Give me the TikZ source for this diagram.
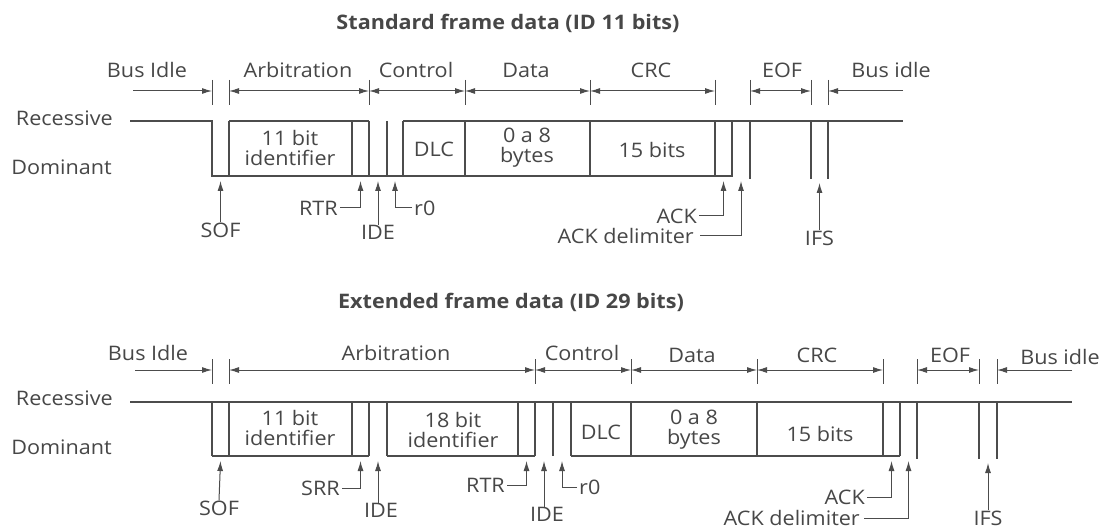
\documentclass[tikz,border=0pt]{standalone}
\usepackage{fontspec}
\setmainfont{Open Sans}[FakeStretch=1.08]
\usetikzlibrary{arrows.meta}
\definecolor{lc}{HTML}{4C4C4C}
\definecolor{tc}{HTML}{474747}
\begin{document}
\begin{tikzpicture}[x=1pt,y=-1pt,
  sig/.style={draw=lc,line width=1.3pt},
  tickl/.style={draw=lc,line width=1pt},
  span/.style={draw=lc,line width=1pt,{Latex[length=10pt,width=6pt]}-{Latex[length=10pt,width=6pt]}},
  ptr/.style={draw=lc,line width=1pt,-{Latex[length=10pt,width=6pt]}},
  lbl/.style={text=tc,inner sep=0pt,font=\fontsize{20}{20}\selectfont},
  boxlbl/.style={lbl,align=center},
  ttl/.style={text=tc,inner sep=0pt,font=\fontsize{20}{20}\selectfont\bfseries}]
\useasboundingbox (0,0) rectangle (1102,529);
\fill[white] (0,0) rectangle (1102,529);

% ================= Standard frame =================
\node[ttl] (title1) at (508,23) {Standard frame data (ID 11 bits)};
\node[lbl] (bi1) at (147,70) {Bus Idle};
\node[lbl] (arb1) at (298,70) {Arbitration};
\node[lbl] (ctl1) at (416,70) {Control};
\node[lbl] (dat1) at (526,70) {Data};
\node[lbl] (crc1) at (651,70) {CRC};
\node[lbl] (eof1) at (782,70) {EOF};
\node[lbl] (bi1r) at (891,70) {Bus idle};
\node[lbl,anchor=east] (rec1) at (113,118) {Recessive};
\node[lbl,anchor=east] (dom1) at (112,167) {Dominant};

% signal
\draw[sig] (130,121) -- (212,121) -- (212,176) -- (732,176) -- (732,121);
\draw[sig] (229,121) -- (369,121);
\draw[sig] (403,121) -- (903,121);
\foreach \x in {229,352,369,387,403,465,590,715}
  \draw[sig] (\x,121) -- (\x,176);
\foreach \x in {750,811,828}
  \draw[sig] (\x,121) -- (\x,179);

% box labels
\node[boxlbl] (id1) at (290,148) {11 bit\\identifier};
\node[boxlbl] (dlc1) at (434,149) {DLC};
\node[boxlbl] (byt1) at (527,148) {0 a 8\\bytes};
\node[boxlbl] (b151) at (652,150) {15 bits};

% ticks and spans
\foreach \x in {212,229,369,465,590,715,750,811,828}
  \draw[tickl] (\x,80) -- (\x,105);
\draw[ptr] (133,91) -- (212,91);
\draw[span] (229,91) -- (369,91);
\draw[span] (369,91) -- (465,91);
\draw[span] (465,91) -- (590,91);
\draw[span] (590,91) -- (715,91);
\draw[span] (750,91) -- (811,91);
\draw[ptr] (903,91) -- (828,91);

% pointers
\coordinate (sofT1) at (220.5,181);
\coordinate (rtrT1) at (360.5,181);
\coordinate (ideT1) at (378,181);
\coordinate (r0T1) at (395,181);
\coordinate (ackT1) at (723.5,181);
\coordinate (ackdT1) at (741,181);
\coordinate (ifsT1) at (819.5,183);
\node[lbl] (sof1) at (220.5,230) {SOF};
\node[lbl,anchor=east] (rtr1) at (338,208) {RTR};
\node[lbl] (ide1) at (378,232) {IDE};
\node[lbl,anchor=west] (r01) at (414,208) {r0};
\node[lbl,anchor=east] (ack1) at (697,216) {ACK};
\node[lbl,anchor=east] (ackd1) at (694,236) {ACK delimiter};
\node[lbl] (ifs1) at (819.5,238) {IFS};
\draw[ptr] (sof1.north) -- (sofT1);
\draw[ptr] ([xshift=2pt]rtr1.east) -| (rtrT1);
\draw[ptr] (ide1.north) -- (ideT1);
\draw[ptr] ([xshift=-2pt]r01.west) -| (r0T1);
\draw[ptr] ([xshift=2pt]ack1.east) -| (ackT1);
\draw[ptr] ([xshift=6pt]ackd1.east) -| (ackdT1);
\draw[ptr] (ifs1.north) -- (ifsT1);

% ================= Extended frame =================
\node[ttl] (title2) at (511,302) {Extended frame data (ID 29 bits)};
\node[lbl] (bi2) at (148,353) {Bus Idle};
\node[lbl] (arb2) at (396,353) {Arbitration};
\node[lbl] (ctl2) at (582,353) {Control};
\node[lbl] (dat2) at (692,355) {Data};
\node[lbl] (crc2) at (817,355) {CRC};
\node[lbl] (eof2) at (950,355) {EOF};
\node[lbl] (bi2r) at (1060,357) {Bus idle};
\node[lbl,anchor=east] (rec2) at (113,398) {Recessive};
\node[lbl,anchor=east] (dom2) at (112,447) {Dominant};

% signal
\draw[sig] (130,402) -- (1072,402);
\draw[sig] (212,456) -- (369,456);
\draw[sig] (387,456) -- (535,456);
\draw[sig] (571,456) -- (900,456);
\foreach \x in {212,229,352,369,387,518,535,553,571,631,757,883,900}
  \draw[sig] (\x,402) -- (\x,456);
\foreach \x in {917,979,997}
  \draw[sig] (\x,402) -- (\x,459);

% box labels
\node[boxlbl] (id2a) at (290,428) {11 bit\\identifier};
\node[boxlbl] (id2b) at (453,430) {18 bit\\identifier};
\node[boxlbl] (dlc2) at (601,432) {DLC};
\node[boxlbl] (byt2) at (694,430) {0 a 8\\bytes};
\node[boxlbl] (b152) at (820,434) {15 bits};

% ticks and spans
\foreach \x in {212,229,535,631,757,883,917,979,997}
  \draw[tickl] (\x,359) -- (\x,384);
\draw[ptr] (135,370) -- (212,370);
\draw[span] (229,370) -- (535,370);
\draw[span] (535,370) -- (631,370);
\draw[span] (631,370) -- (757,370);
\draw[span] (757,370) -- (883,370);
\draw[span] (917,370) -- (979,370);
\draw[ptr] (1072,370) -- (997,370);

% pointers
\coordinate (sofT2) at (220.5,461);
\coordinate (srrT2) at (360.5,461);
\coordinate (ideT2) at (378,461);
\coordinate (rtrT2) at (526.5,461);
\coordinate (ideT2b) at (544,461);
\coordinate (r0T2) at (562,461);
\coordinate (ackT2) at (891.5,461);
\coordinate (ackdT2) at (908.5,461);
\coordinate (ifsT2) at (988,463);
\node[lbl] (sof2) at (219,508) {SOF};
\node[lbl,anchor=east] (srr2) at (340,488) {SRR};
\node[lbl] (ide2) at (381,510) {IDE};
\node[lbl,anchor=east] (rtr2) at (505,485) {RTR};
\node[lbl] (ide2b) at (547,514) {IDE};
\node[lbl,anchor=west] (r02) at (579,487) {r0};
\node[lbl,anchor=east] (ack2) at (865,497) {ACK};
\node[lbl,anchor=east] (ackd2) at (860,518) {ACK delimiter};
\node[lbl] (ifs2) at (988,518) {IFS};
\draw[ptr] (sof2.north) -- (sofT2);
\draw[ptr] ([xshift=2pt]srr2.east) -| (srrT2);
\draw[ptr] (ide2.north -| ideT2) -- (ideT2);
\draw[ptr] ([xshift=2pt]rtr2.east) -| (rtrT2);
\draw[ptr] (ide2b.north -| ideT2b) -- (ideT2b);
\draw[ptr] ([xshift=-2pt]r02.west) -| (r0T2);
\draw[ptr] ([xshift=2pt]ack2.east) -| (ackT2);
\draw[ptr] ([xshift=4pt]ackd2.east) -| (ackdT2);
\draw[ptr] (ifs2.north) -- (ifsT2);
\end{tikzpicture}
\end{document}
